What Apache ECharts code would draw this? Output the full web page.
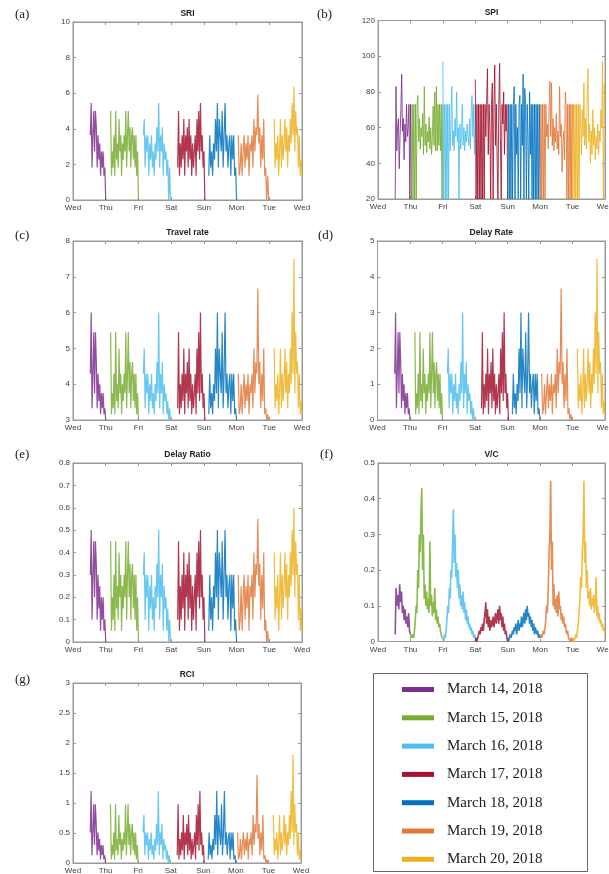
<!DOCTYPE html>
<html><head><meta charset="utf-8">
<script src="https://cdn.jsdelivr.net/npm/echarts@6/dist/echarts.min.js"></script>
<style>html,body{margin:0;padding:0;background:#fff}#c{width:609px;height:874px}</style>
</head><body><div id="c"></div>
<script>
// ---------- labels ----------
const dayLabels = ['Wed','Thu','Fri','Sat','Sun','Mon','Tue','Wed'];
const dates = ['March 14, 2018','March 15, 2018','March 16, 2018','March 17, 2018','March 18, 2018','March 19, 2018','March 20, 2018'];
const colors = ['#7E2F8E','#77AC30','#4DBEEE','#A2142F','#0072BD','#E2783A','#EDB120'];

// ---------- observation windows (days since Wed 00:00) ----------
const idxStart = [0.53,1.15,2.15,3.2,4.15,5.05,6.15];
const idxEnd   = [1.0,2.0,2.98,4.03,5.0,5.98,7.0];
const spiStart = [0.53,1.03,2.0,3.0,4.0,5.0,6.0];
const spiEnd   = [1.03,2.0,3.0,4.0,5.0,6.0,7.0];
const vcStart  = [0.53,1.0,2.0,3.0,4.0,5.0,6.0];
const vcEnd    = [1.0,2.0,3.05,4.0,5.0,6.0,7.0];

// ---------- (a) SRI ----------
const sri14 = [3.64,5.45,1.82,3.64,5.0,2.73,5.0,4.09,1.82,3.64,2.27,3.18,1.36,2.73,1.82,2.73,1.36,1.82,0];
const sri15 = [5.0,1.36,2.73,1.82,3.64,1.36,5.0,2.27,3.18,1.82,4.55,2.73,3.64,1.36,3.18,2.27,3.64,2.73,5.0,1.82,3.64,5.0,2.73,4.09,1.82,3.64,4.09,2.27,3.64,1.82,3.64,1.36,2.73,0];
const sri16 = [3.64,4.55,1.82,3.64,2.73,3.64,1.36,3.18,2.27,3.64,1.82,2.73,1.36,3.18,2.27,4.09,2.73,5.45,1.82,3.64,2.73,4.09,1.36,3.18,2.27,2.73,1.36,2.27,0,1.82,0];
const sri17 = [1.82,5.0,1.36,3.18,1.82,3.64,2.27,4.55,1.36,3.64,2.73,4.09,1.82,4.55,2.27,3.64,1.36,3.18,1.82,2.73,3.64,1.36,4.55,2.73,5.0,2.27,5.45,2.73,3.64,1.82,2.73,0];
const sri18 = [1.36,3.64,1.82,2.73,1.36,3.18,2.27,4.55,2.73,5.45,1.82,4.55,3.64,2.73,5.0,1.82,3.64,5.45,2.73,3.64,1.82,3.18,3.64,1.36,3.64,2.27,3.64,1.36,1.82,0];
const sri19 = [3.64,1.36,1.82,3.18,1.36,2.73,3.64,1.82,3.18,2.27,3.64,1.36,3.18,2.73,3.64,1.82,4.55,2.73,4.09,3.64,5.91,3.18,4.09,1.82,3.64,2.27,4.55,1.36,1.82,0,1.36,0];
const sri20 = [4.55,1.82,3.18,2.27,3.64,1.36,2.73,4.55,1.82,3.64,2.27,3.18,4.55,2.73,4.09,1.82,3.64,2.73,4.55,3.18,5.45,3.64,6.36,2.73,5.0,3.64,4.09,1.82,3.64,1.36,2.27,1.36];

// ---------- (b) SPI ----------
const spi14 = [20,83,47,60,65,37,55,70,90,58,65,42,62,52,73,55,60,73,20,73,20];
const spi15 = [20,73,20,73,20,73,20,73,78,52,65,48,60,55,68,45,83,50,62,46,58,52,66,48,60,45,55,72,50,80,47,83,47,73,50,73,47,73,20,73];
const spi16 = [97,20,73,20,73,20,73,20,73,47,62,83,50,58,47,65,55,80,52,60,20,62,48,56,73,50,60,47,58,52,62,55,50,65,48,70,78,55,73,45,73];
const spi17 = [87,20,73,20,73,20,73,20,73,20,73,20,73,55,73,93,45,73,60,20,73,85,20,73,95,50,73,40,20,73,96,55,20,73,62,80,45,73,58,73,20];
const spi18 = [20,73,20,73,20,73,20,73,83,20,73,45,60,20,73,78,20,73,50,90,20,82,73,20,73,55,20,80,45,73,20,73,20,73,20,73,20,73,20,73,20];
const spi19 = [20,73,20,73,20,73,20,73,55,62,48,70,86,55,85,50,65,47,60,52,68,48,58,45,83,55,62,35,50,58,42,80,73,20,73,20,73,20,73,20,73];
const spi20 = [20,73,20,73,20,73,20,73,20,73,60,45,70,55,85,50,65,48,78,93,52,62,40,58,45,70,50,60,42,55,48,62,45,58,52,70,60,97,20,84,73];

// ---------- (c) Travel rate ----------
const tr14 = [4.29,6,3.33,4.29,5.45,3.75,5.45,4.62,3.33,4.29,3.53,4,3.16,3.75,3.33,3.75,3.16,3.33,3];
const tr15 = [5.45,3.16,3.75,3.33,4.29,3.16,5.45,3.53,4,3.33,5,3.75,4.29,3.16,4,3.53,4.29,3.75,5.45,3.33,4.29,5.45,3.75,4.62,3.33,4.29,4.62,3.53,4.29,3.33,4.29,3.16,3.75,3];
const tr16 = [4.29,5,3.33,4.29,3.75,4.29,3.16,4,3.53,4.29,3.33,3.75,3.16,4,3.53,4.62,3.75,6,3.33,4.29,3.75,4.62,3.16,4,3.53,3.75,3.16,3.53,3,3.33,3];
const tr17 = [3.33,5.45,3.16,4,3.33,4.29,3.53,5,3.16,4.29,3.75,4.62,3.33,5,3.53,4.29,3.16,4,3.33,3.75,4.29,3.16,5,3.75,5.45,3.53,6,3.75,4.29,3.33,3.75,3];
const tr18 = [3.16,4.29,3.33,3.75,3.16,4,3.53,5,3.75,6,3.33,5,4.29,3.75,5.45,3.33,4.29,6,3.75,4.29,3.33,4,4.29,3.16,4.29,3.53,4.29,3.16,3.33,3];
const tr19 = [4.29,3.16,3.33,4,3.16,3.75,4.29,3.33,4,3.53,4.29,3.16,4,3.75,4.29,3.33,5,3.75,4.62,4.29,6.67,4,4.62,3.33,4.29,3.53,5,3.16,3.33,3,3.16,3];
const tr20 = [5,3.33,4,3.53,4.29,3.16,3.75,5,3.33,4.29,3.53,4,5,3.75,4.62,3.33,4.29,3.75,5,4,6,4.29,7.5,3.75,5.45,4.29,4.62,3.33,4.29,3.16,3.53,3.16];

// ---------- (d) Delay Rate ----------
const drt14 = [1.29,3,0.33,1.29,2.45,0.75,2.45,1.62,0.33,1.29,0.53,1,0.16,0.75,0.33,0.75,0.16,0.33,0];
const drt15 = [2.45,0.16,0.75,0.33,1.29,0.16,2.45,0.53,1,0.33,2,0.75,1.29,0.16,1,0.53,1.29,0.75,2.45,0.33,1.29,2.45,0.75,1.62,0.33,1.29,1.62,0.53,1.29,0.33,1.29,0.16,0.75,0];
const drt16 = [1.29,2,0.33,1.29,0.75,1.29,0.16,1,0.53,1.29,0.33,0.75,0.16,1,0.53,1.62,0.75,3,0.33,1.29,0.75,1.62,0.16,1,0.53,0.75,0.16,0.53,0,0.33,0];
const drt17 = [0.33,2.45,0.16,1,0.33,1.29,0.53,2,0.16,1.29,0.75,1.62,0.33,2,0.53,1.29,0.16,1,0.33,0.75,1.29,0.16,2,0.75,2.45,0.53,3,0.75,1.29,0.33,0.75,0];
const drt18 = [0.16,1.29,0.33,0.75,0.16,1,0.53,2,0.75,3,0.33,2,1.29,0.75,2.45,0.33,1.29,3,0.75,1.29,0.33,1,1.29,0.16,1.29,0.53,1.29,0.16,0.33,0];
const drt19 = [1.29,0.16,0.33,1,0.16,0.75,1.29,0.33,1,0.53,1.29,0.16,1,0.75,1.29,0.33,2,0.75,1.62,1.29,3.67,1,1.62,0.33,1.29,0.53,2,0.16,0.33,0,0.16,0];
const drt20 = [2,0.33,1,0.53,1.29,0.16,0.75,2,0.33,1.29,0.53,1,2,0.75,1.62,0.33,1.29,0.75,2,1,3,1.29,4.5,0.75,2.45,1.29,1.62,0.33,1.29,0.16,0.53,0.16];

// ---------- (e) Delay Ratio ----------
const dro14 = [0.3,0.5,0.1,0.3,0.45,0.2,0.45,0.35,0.1,0.3,0.15,0.25,0.05,0.2,0.1,0.2,0.05,0.1,0];
const dro15 = [0.45,0.05,0.2,0.1,0.3,0.05,0.45,0.15,0.25,0.1,0.4,0.2,0.3,0.05,0.25,0.15,0.3,0.2,0.45,0.1,0.3,0.45,0.2,0.35,0.1,0.3,0.35,0.15,0.3,0.1,0.3,0.05,0.2,0];
const dro16 = [0.3,0.4,0.1,0.3,0.2,0.3,0.05,0.25,0.15,0.3,0.1,0.2,0.05,0.25,0.15,0.35,0.2,0.5,0.1,0.3,0.2,0.35,0.05,0.25,0.15,0.2,0.05,0.15,0,0.1,0];
const dro17 = [0.1,0.45,0.05,0.25,0.1,0.3,0.15,0.4,0.05,0.3,0.2,0.35,0.1,0.4,0.15,0.3,0.05,0.25,0.1,0.2,0.3,0.05,0.4,0.2,0.45,0.15,0.5,0.2,0.3,0.1,0.2,0];
const dro18 = [0.05,0.3,0.1,0.2,0.05,0.25,0.15,0.4,0.2,0.5,0.1,0.4,0.3,0.2,0.45,0.1,0.3,0.5,0.2,0.3,0.1,0.25,0.3,0.05,0.3,0.15,0.3,0.05,0.1,0];
const dro19 = [0.3,0.05,0.1,0.25,0.05,0.2,0.3,0.1,0.25,0.15,0.3,0.05,0.25,0.2,0.3,0.1,0.4,0.2,0.35,0.3,0.55,0.25,0.35,0.1,0.3,0.15,0.4,0.05,0.1,0,0.05,0];
const dro20 = [0.4,0.1,0.25,0.15,0.3,0.05,0.2,0.4,0.1,0.3,0.15,0.25,0.4,0.2,0.35,0.1,0.3,0.2,0.4,0.25,0.5,0.3,0.6,0.2,0.45,0.3,0.35,0.1,0.3,0.05,0.15,0.05];

// ---------- (f) V/C ----------
const vc14 = [0.02,0.15,0.1,0.13,0.09,0.16,0.11,0.14,0.08,0.1,0.06,0.09,0.05,0.07,0.04,0.08,0.03,0.02];
const vc15 = [0.01,0.02,0.01,0.02,0.01,0.03,0.06,0.1,0.08,0.2,0.15,0.3,0.25,0.36,0.43,0.2,0.3,0.12,0.16,0.1,0.14,0.09,0.12,0.08,0.28,0.1,0.13,0.07,0.11,0.08,0.15,0.06,0.09,0.05,0.07,0.04,0.05,0.03,0.02,0.01,0.01];
const vc16 = [0.01,0,0.02,0.01,0.03,0.06,0.1,0.08,0.15,0.12,0.2,0.18,0.28,0.37,0.22,0.3,0.18,0.22,0.15,0.2,0.12,0.16,0.1,0.13,0.09,0.14,0.08,0.11,0.06,0.09,0.05,0.07,0.04,0.05,0.03,0.04,0.02,0.03,0.01,0.02,0.01,0,0.01];
const vc17 = [0,0.01,0,0.01,0.02,0.03,0.02,0.04,0.03,0.05,0.03,0.06,0.08,0.11,0.05,0.09,0.04,0.07,0.03,0.06,0.04,0.05,0.07,0.04,0.06,0.08,0.05,0.07,0.09,0.05,0.1,0.06,0.08,0.04,0.07,0.03,0.05,0.02,0.03,0.01,0];
const vc18 = [0.01,0,0.01,0.02,0.01,0.02,0.03,0.02,0.04,0.03,0.05,0.02,0.04,0.06,0.03,0.05,0.04,0.07,0.04,0.06,0.08,0.05,0.09,0.06,0.1,0.07,0.08,0.05,0.07,0.04,0.06,0.03,0.05,0.02,0.04,0.03,0.02,0.03,0.01,0.02,0.01];
const vc19 = [0.01,0.02,0.01,0.02,0.03,0.02,0.04,0.06,0.1,0.08,0.15,0.25,0.3,0.45,0.2,0.28,0.1,0.16,0.09,0.12,0.08,0.13,0.07,0.14,0.09,0.1,0.06,0.08,0.05,0.07,0.04,0.05,0.03,0.02,0.03,0.01,0.01,0,0.01,0,0.01];
const vc20 = [0,0.01,0,0.01,0.02,0.01,0.03,0.05,0.08,0.12,0.18,0.15,0.25,0.3,0.45,0.22,0.28,0.15,0.2,0.12,0.14,0.1,0.15,0.09,0.12,0.1,0.13,0.08,0.11,0.18,0.07,0.1,0.06,0.08,0.05,0.06,0.04,0.05,0.03,0.04,0.02];

// ---------- (g) RCI ----------
const rci14 = [0.51,1.2,0.13,0.51,0.98,0.3,0.98,0.65,0.13,0.51,0.21,0.4,0.06,0.3,0.13,0.3,0.06,0.13,0];
const rci15 = [0.98,0.06,0.3,0.13,0.51,0.06,0.98,0.21,0.4,0.13,0.8,0.3,0.51,0.06,0.4,0.21,0.51,0.3,0.98,0.13,0.51,0.98,0.3,0.65,0.13,0.51,0.65,0.21,0.51,0.13,0.51,0.06,0.3,0];
const rci16 = [0.51,0.8,0.13,0.51,0.3,0.51,0.06,0.4,0.21,0.51,0.13,0.3,0.06,0.4,0.21,0.65,0.3,1.2,0.13,0.51,0.3,0.65,0.06,0.4,0.21,0.3,0.06,0.21,0,0.13,0];
const rci17 = [0.13,0.98,0.06,0.4,0.13,0.51,0.21,0.8,0.06,0.51,0.3,0.65,0.13,0.8,0.21,0.51,0.06,0.4,0.13,0.3,0.51,0.06,0.8,0.3,0.98,0.21,1.2,0.3,0.51,0.13,0.3,0];
const rci18 = [0.06,0.51,0.13,0.3,0.06,0.4,0.21,0.8,0.3,1.2,0.13,0.8,0.51,0.3,0.98,0.13,0.51,1.2,0.3,0.51,0.13,0.4,0.51,0.06,0.51,0.21,0.51,0.06,0.13,0];
const rci19 = [0.51,0.06,0.13,0.4,0.06,0.3,0.51,0.13,0.4,0.21,0.51,0.06,0.4,0.3,0.51,0.13,0.8,0.3,0.65,0.51,1.47,0.4,0.65,0.13,0.51,0.21,0.8,0.06,0.13,0,0.06,0];
const rci20 = [0.8,0.13,0.4,0.21,0.51,0.06,0.3,0.8,0.13,0.51,0.21,0.4,0.8,0.3,0.65,0.13,0.51,0.3,0.8,0.4,1.2,0.51,1.8,0.3,0.98,0.51,0.65,0.13,0.51,0.06,0.21,0.06];

// ---------- panel definitions ----------
const panels = [
  {tag:'(a)', title:'SRI',         min:0,  max:10,  interval:2,   days:[sri14,sri15,sri16,sri17,sri18,sri19,sri20], t0:idxStart, t1:idxEnd},
  {tag:'(b)', title:'SPI',         min:20, max:120, interval:20,  days:[spi14,spi15,spi16,spi17,spi18,spi19,spi20], t0:spiStart, t1:spiEnd},
  {tag:'(c)', title:'Travel rate', min:3,  max:8,   interval:1,   days:[tr14,tr15,tr16,tr17,tr18,tr19,tr20],        t0:idxStart, t1:idxEnd},
  {tag:'(d)', title:'Delay Rate',  min:0,  max:5,   interval:1,   days:[drt14,drt15,drt16,drt17,drt18,drt19,drt20], t0:idxStart, t1:idxEnd},
  {tag:'(e)', title:'Delay Ratio', min:0,  max:0.8, interval:0.1, days:[dro14,dro15,dro16,dro17,dro18,dro19,dro20], t0:idxStart, t1:idxEnd},
  {tag:'(f)', title:'V/C',         min:0,  max:0.5, interval:0.1, days:[vc14,vc15,vc16,vc17,vc18,vc19,vc20],        t0:vcStart,  t1:vcEnd},
  {tag:'(g)', title:'RCI',         min:0,  max:3,   interval:0.5, days:[rci14,rci15,rci16,rci17,rci18,rci19,rci20], t0:idxStart, t1:idxEnd}
];

// ---------- layout (pixels) ----------
const boxes = [
  {left:73,  top:22,  width:229, height:178},
  {left:378, top:20.5,width:227, height:178.5},
  {left:73,  top:241, width:229, height:179},
  {left:377.5,top:241,width:227.5,height:179},
  {left:73,  top:463, width:229, height:179},
  {left:378, top:463, width:227, height:178.5},
  {left:73,  top:683, width:228, height:180}
];
const lineW = [1.2, 1.0, 1.2, 1.2, 1.2, 1.6, 1.2];
const tagPos = [[15,15],[317,15],[15,236],[318,236],[15,455],[320,455],[15,680]];

const AX = '#9a9a9a', LBL = '#404040';
const grids = [], xAxes = [], yAxes = [], series = [], graphics = [];

panels.forEach((p, i) => {
  const b = boxes[i];
  grids.push({left:b.left, top:b.top, width:b.width, height:b.height, show:true, borderColor:AX, borderWidth:1,
    containLabel:false, outerBoundsMode:'none'});
  const xBase = {type:'value', gridIndex:i, min:0, max:7, interval:1, splitLine:{show:false},
    axisLine:{show:true, onZero:false, lineStyle:{color:AX, width:1}},
    axisTick:{show:true, inside:true, length:3, lineStyle:{color:AX}}};
  xAxes.push(Object.assign({}, xBase, {position:'bottom',
    axisLabel:{show:true, margin:4, fontSize:8, color:LBL, fontFamily:'Liberation Sans', showMaxLabel:true, showMinLabel:true,
      hideOverlap:false, formatter: v => dayLabels[Math.round(v)]}}));
  xAxes.push(Object.assign({}, xBase, {position:'top', axisLabel:{show:false}}));
  const yBase = {type:'value', gridIndex:i, min:p.min, max:p.max, interval:p.interval, splitLine:{show:false},
    axisLine:{show:true, onZero:false, lineStyle:{color:AX, width:1}},
    axisTick:{show:true, inside:true, length:3, lineStyle:{color:AX}}};
  yAxes.push(Object.assign({}, yBase, {position:'left',
    axisLabel:{show:true, margin:3, fontSize:8, color:LBL, fontFamily:'Liberation Sans'}}));
  yAxes.push(Object.assign({}, yBase, {position:'right', axisLabel:{show:false}}));

  p.days.forEach((vals, d) => {
    const s = p.t0[d], e = p.t1[d], n = vals.length;
    series.push({
      type:'line', name:dates[d], xAxisIndex:2*i, yAxisIndex:2*i,
      data: vals.map((v, k) => [s + (e - s) * k / (n - 1), v]),
      showSymbol:false, symbol:'none', animation:false, silent:true, clip:true,
      color: colors[d],
      lineStyle:{width:lineW[i], color:colors[d], opacity:0.85}
    });
  });

  graphics.push({type:'text', x:b.left + b.width/2, y:b.top - 8, silent:true,
    style:{text:p.title, textAlign:'center', textVerticalAlign:'middle', fontFamily:'Liberation Sans', fontWeight:'bold', fontSize:8.5, fill:'#222'}});
  graphics.push({type:'text', x:tagPos[i][0], y:tagPos[i][1], silent:true,
    style:{text:p.tag, textAlign:'left', textVerticalAlign:'middle', fontFamily:'Liberation Serif', fontSize:13, fill:'#222'}});
});

// legend frame
graphics.push({type:'rect', shape:{x:373.5, y:673.5, width:214, height:198}, silent:true,
  style:{fill:'none', stroke:'#666', lineWidth:1}});

const chart = echarts.init(document.getElementById('c'), null, {renderer:'canvas'});
chart.setOption({
  animation:false,
  backgroundColor:'#fff',
  grid:grids, xAxis:xAxes, yAxis:yAxes, series:series, graphic:graphics,
  legend:{
    data:dates, left:402, top:681, orient:'vertical', icon:'rect', itemWidth:32, itemHeight:5, itemGap:11.3,
    selectedMode:false, padding:0,
    itemStyle:{opacity:1},
    textStyle:{fontFamily:'Liberation Serif', fontSize:15, color:'#222', lineHeight:17, padding:[0,0,0,8]}
  }
});
</script></body></html>
